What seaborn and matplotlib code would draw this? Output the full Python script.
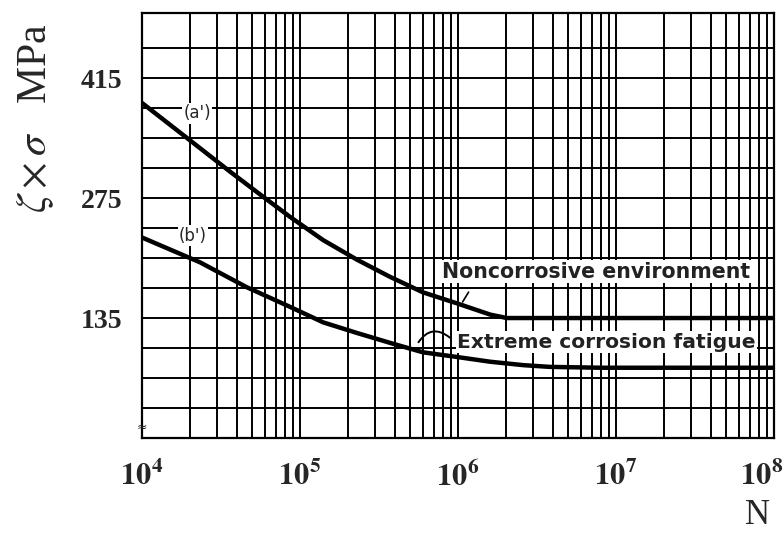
import numpy as np
import pandas as pd
import matplotlib
matplotlib.use("Agg")
import matplotlib.pyplot as plt
import matplotlib.transforms as mtransforms
import seaborn as sns
from matplotlib.ticker import FixedLocator, FixedFormatter, NullFormatter

# ---- data ----
cycles_a = [1e4, 1.87e4, 3.6e4, 5.8e4, 8.66e4, 1.40e5, 2.30e5, 3.72e5, 6.0e5,
            9.9e5, 1.6e6, 2.04e6, 1e8]
stress_a = [386, 347, 306, 277, 253, 226, 203, 183, 165, 152, 139, 135, 135]
cycles_b = [1e4, 2.33e4, 4.6e4, 8.66e4, 1.40e5, 2.30e5, 3.72e5, 6.0e5, 9.9e5,
            1.6e6, 2.6e6, 3.8e6, 8e6, 1e8]
stress_b = [229, 200, 171, 148, 130, 117.5, 106, 95, 89.5, 84, 80, 78, 77, 77]

y_ticks = [135, 275, 415]
y_tick_labels = ["135", "275", "415"]
y_grid = list(range(30, 451, 35))
x_decades = [1e4, 1e5, 1e6, 1e7, 1e8]
x_tick_labels = [r"$\mathbf{10^{4}}$", r"$\mathbf{10^{5}}$", r"$\mathbf{10^{6}}$",
                 r"$\mathbf{10^{7}}$", r"$\mathbf{10^{8}}$"]
x_minor = [m * d for d in [1e4, 1e5, 1e6, 1e7] for m in range(2, 10)]

df = pd.concat([
    pd.DataFrame({"N": cycles_a, "S": stress_a, "curve": "a"}),
    pd.DataFrame({"N": cycles_b, "S": stress_b, "curve": "b"}),
])

sns.set_theme(style="white")
plt.rcParams["mathtext.fontset"] = "stix"
plt.rcParams["font.family"] = ["DejaVu Sans"]

fig = plt.figure(figsize=(7.84, 5.34), dpi=100)
ax = fig.add_axes([142 / 784, 1 - 438 / 534, (774 - 142) / 784, (438 - 13) / 534])

sns.lineplot(data=df, x="N", y="S", units="curve", estimator=None, color="black",
             linewidth=3.2, ax=ax, zorder=4, legend=False)
for ln in ax.get_lines():
    ln.set_solid_joinstyle("round")
    ln.set_solid_capstyle("round")

ax.set_xscale("log")
ax.set_xlim(1e4, 1e8)
ax.set_ylim(-5, 491)

ax.xaxis.set_major_locator(FixedLocator(x_decades))
ax.xaxis.set_major_formatter(FixedFormatter(x_tick_labels))
ax.xaxis.set_minor_locator(FixedLocator(x_minor))
ax.xaxis.set_minor_formatter(NullFormatter())
ax.yaxis.set_major_locator(FixedLocator(y_ticks))
ax.yaxis.set_major_formatter(FixedFormatter(y_tick_labels))
ax.yaxis.set_minor_locator(FixedLocator(y_grid))
ax.yaxis.set_minor_formatter(NullFormatter())

ax.grid(True, which="both", color="black", linewidth=1.4, zorder=1)
ax.set_axisbelow(True)
ax.tick_params(axis="both", which="both", length=0)
ax.tick_params(axis="x", pad=16, labelsize=22)
ax.tick_params(axis="y", pad=14)
for lab in ax.get_yticklabels():
    lab.set_fontfamily("Liberation Serif")
    lab.set_fontweight("bold")
    lab.set_fontsize(20)
for sp in ax.spines.values():
    sp.set_color("black")
    sp.set_linewidth(1.6)

ax.set_xlabel("")
ax.set_ylabel("")

fig.canvas.draw()
last = ax.xaxis.get_major_ticks()[-1].label1
last.set_transform(last.get_transform() +
                   mtransforms.ScaledTranslation(-12 / 100, 0, fig.dpi_scale_trans))

fig.text(35 / 784, 1 - 118 / 534, r"$\zeta\times\sigma$   MPa", rotation=90,
         ha="center", va="center", fontsize=30, family="Liberation Serif")
fig.text(757 / 784, 1 - 516 / 534, "N", ha="center", va="center",
         fontsize=25, family="Liberation Serif")

box = dict(facecolor="white", edgecolor="none", pad=1.0)
ax.text(2.23e4, 374, "(a')", ha="center", va="center", fontsize=12, bbox=box, zorder=5)
ax.text(2.1e4, 231, "(b')", ha="center", va="center", fontsize=12, bbox=box, zorder=5)
ax.text(10 ** 5.899, 189, "Noncorrosive environment", ha="left", va="center",
        fontsize=14.8, fontweight="bold", color="#222222", bbox=box, zorder=5)
ax.text(10 ** 5.994, 107, "Extreme corrosion fatigue", ha="left", va="center",
        fontsize=14.6, fontweight="bold", color="#222222", bbox=box, zorder=5)

ax.annotate("", xy=(10 ** 6.02, 151), xytext=(10 ** 6.076, 168),
            arrowprops=dict(arrowstyle="-", color="black", lw=1.2), zorder=6)
ax.annotate("", xy=(10 ** 5.74, 104), xytext=(10 ** 5.962, 110),
            arrowprops=dict(arrowstyle="-", color="black", lw=1.4,
                            connectionstyle="arc3,rad=0.6"), zorder=6)
ax.text(0.0, 0.025, "≈", transform=ax.transAxes, ha="center", va="center",
        fontsize=9, zorder=6)

fig.savefig("out.png", dpi=100, facecolor="white")
